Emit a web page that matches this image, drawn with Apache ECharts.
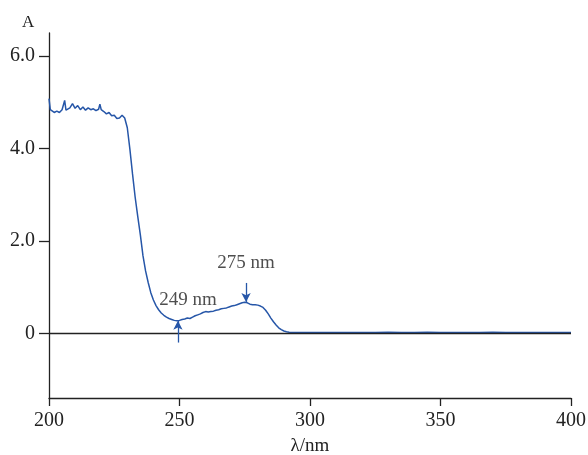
<!DOCTYPE html>
<html><head><meta charset="utf-8">
<script src="https://cdn.jsdelivr.net/npm/echarts@6/dist/echarts.min.js"></script>
<style>html,body{margin:0;padding:0;background:#fff}#c{width:588px;height:455px}</style>
</head><body><div id="c"></div>
<script>
const wavelengths = [200,200.5,201,202,203,204,205,205.5,206,206.5,207,208,209,210,211,212,213,214,215,216,217,218,219,219.5,220,221,222,223,224,225,226,227,228,228.5,229,230,231,232,233,234,235,236,237,238,239,240,241,242,243,244,245,246,247,248,249,250,251,252,253,254,255,256,257,258,259,260,261,262,263,264,265,266,267,268,269,270,271,272,273,274,275,276,277,278,279,280,281,282,283,284,285,286,287,288,289,290,291,292,293,295,300,305,310,315,320,325,330,335,340,345,350,355,360,365,370,375,380,385,390,395,400];
const absorbance = [5.08,4.84,4.80,4.78,4.81,4.78,4.84,4.80,5.04,4.83,4.79,4.88,4.97,4.87,4.93,4.84,4.90,4.83,4.88,4.84,4.86,4.82,4.85,4.96,4.84,4.80,4.75,4.78,4.71,4.72,4.65,4.66,4.72,4.74,4.66,4.45,3.98,3.45,2.95,2.53,2.13,1.68,1.35,1.10,0.88,0.72,0.60,0.51,0.44,0.39,0.35,0.32,0.30,0.28,0.27,0.28,0.30,0.31,0.33,0.32,0.35,0.38,0.40,0.42,0.45,0.47,0.46,0.47,0.48,0.50,0.51,0.53,0.54,0.55,0.57,0.59,0.60,0.62,0.64,0.66,0.67,0.66,0.63,0.62,0.62,0.61,0.59,0.56,0.50,0.42,0.33,0.25,0.18,0.12,0.08,0.05,0.035,0.025,0.02,0.02,0.015,0.02,0.018,0.02,0.015,0.02,0.022,0.018,0.02,0.025,0.02,0.018,0.02,0.02,0.022,0.018,0.02,0.02,0.018,0.02,0.02];
const yTicks = [0,2,4,6];
const xTicks = [200,250,300,350,400];
const peaks = [
  {name:'249 nm', nm:249.4, from:-0.2, to:0.27, labelNm:253.3, labelA:0.72},
  {name:'275 nm', nm:275.5, from:1.09, to:0.68, labelNm:275.5, labelA:1.52}
];
const font = '"Liberation Serif","Times New Roman",serif';
const chart = echarts.init(document.getElementById('c'));
const series = [{
  type:'line', data: wavelengths.map((w,i)=>[w,absorbance[i]]), showSymbol:false, symbol:'none',
  lineStyle:{color:'#2656a8', width:1.5}, z:3,
  markLine:{silent:true, symbol:'none', animation:false,
    lineStyle:{color:'#222', width:1.3, type:'solid'}, label:{show:false},
    data:[{yAxis:0}]}
}];
peaks.forEach(p=>{
  series.push({type:'line', data:[], markLine:{silent:true, animation:false, symbol:['none','arrow'], symbolSize:[7,9],
    lineStyle:{color:'#2656a8', width:1.3, type:'solid'}, label:{show:false},
    data:[[{coord:[p.nm,p.from]},{coord:[p.nm,p.to]}]]}, z:4});
  series.push({type:'scatter', data:[[p.labelNm,p.labelA]], symbolSize:0, z:5, silent:true,
    itemStyle:{color:'transparent'},
    label:{show:true, position:'inside', formatter:p.name, fontFamily:font, fontSize:19, color:'#222',
      textBorderWidth:0, textBorderColor:'transparent'}});
});
chart.setOption({
  animation:false,
  grid:{left:49, right:17, top:33, bottom:57, outerBoundsMode:'none', containLabel:false},
  xAxis:{type:'value', min:200, max:400, interval:50,
    name:'λ/nm', nameLocation:'middle', nameGap:39,
    nameTextStyle:{fontFamily:font, fontSize:19, color:'#222'},
    axisLine:{onZero:false, lineStyle:{color:'#222', width:1.3}},
    axisTick:{show:true, length:8, lineStyle:{color:'#222', width:1.3}},
    axisLabel:{fontFamily:font, fontSize:20, color:'#222', margin:13},
    splitLine:{show:false}},
  yAxis:{type:'value', min:-1.4, max:6.5,
    axisLine:{show:true, onZero:false, lineStyle:{color:'#222', width:1.3}},
    axisTick:{show:true, length:10, customValues:yTicks, lineStyle:{color:'#222', width:1.3}},
    axisLabel:{fontFamily:font, fontSize:20, color:'#222', margin:14, customValues:yTicks,
      formatter:v=> v===0 ? '0' : v.toFixed(1)},
    splitLine:{show:false}},
  graphic:[{type:'text', left:22, top:14, style:{text:'A', fontFamily:font, fontSize:17, fill:'#222'}}],
  series: series
});
</script></body></html>
